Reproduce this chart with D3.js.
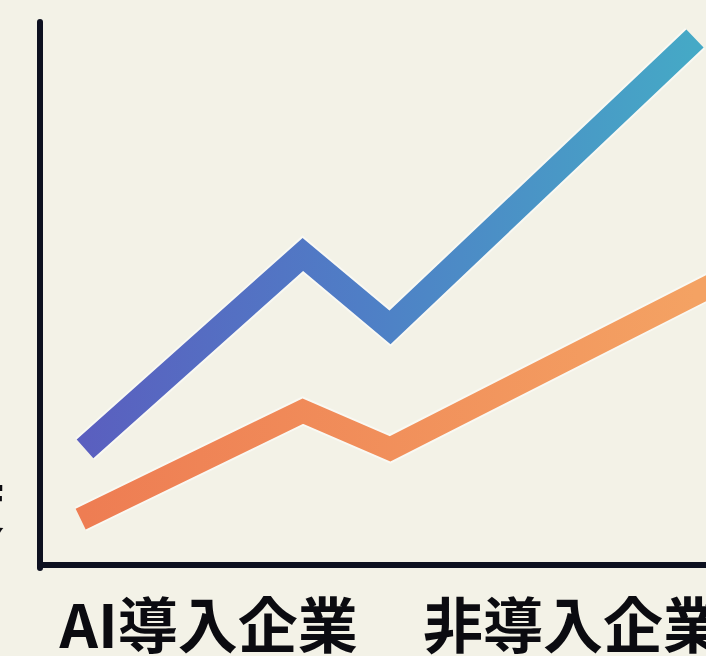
<!DOCTYPE html>
<html>
<head>
<meta charset="utf-8">
<script src="https://cdn.jsdelivr.net/npm/d3@7"></script>
<style>
  html,body{margin:0;padding:0;background:#f3f2e7;}
  svg{display:block;}
</style>
</head>
<body>
<svg id="chart" width="706" height="656"></svg>
<script>
// categories under the x axis
const categories = ["AI導入企業", "非導入企業"];
const categoryPos = [1.42, 5.6];

// series values (x in arbitrary time units, y in index units)
const aiX      = [0, 2.5, 3.5, 7];
const aiY      = [21.5, 57.5, 44, 97.5];
const nonX     = [-0.05, 2.5, 3.5, 7.4];
const nonY     = [8.5, 28.5, 21.5, 53.5];

const yLabel = "度";

const W = 706, H = 656;
const m = {left:40, right:0, top:22, bottom:91};

const svg = d3.select("#chart");

const x = d3.scaleLinear().domain([0, 7]).range([85, 695]);
const y = d3.scaleLinear().domain([0, 100]).range([H - m.bottom, H - m.bottom - 540]);

const defs = svg.append("defs");
const gBlue = defs.append("linearGradient").attr("id","gBlue")
  .attr("gradientUnits","userSpaceOnUse")
  .attr("x1",x(0)).attr("x2",x(7)).attr("y1",0).attr("y2",0);
gBlue.append("stop").attr("offset","0%").attr("stop-color","#5a5fbf");
gBlue.append("stop").attr("offset","45%").attr("stop-color","#4f7ec6");
gBlue.append("stop").attr("offset","100%").attr("stop-color","#45a9c6");

const gOrange = defs.append("linearGradient").attr("id","gOrange")
  .attr("gradientUnits","userSpaceOnUse")
  .attr("x1",x(0)).attr("x2",x(7)).attr("y1",0).attr("y2",0);
gOrange.append("stop").attr("offset","0%").attr("stop-color","#ee7d53");
gOrange.append("stop").attr("offset","100%").attr("stop-color","#f4a263");

const line = d3.line().x(d=>x(d[0])).y(d=>y(d[1]));

const series = [
  { pts: d3.zip(nonX, nonY), stroke:"url(#gOrange)", w:23 },
  { pts: d3.zip(aiX, aiY),   stroke:"url(#gBlue)",   w:25 }
];

series.forEach(s=>{
  // soft light halo
  svg.append("path").attr("d", line(s.pts))
    .attr("fill","none").attr("stroke","#ffffff").attr("stroke-opacity",0.5)
    .attr("stroke-width", s.w + 4).attr("stroke-linejoin","miter");
  svg.append("path").attr("d", line(s.pts))
    .attr("fill","none").attr("stroke", s.stroke)
    .attr("stroke-width", s.w).attr("stroke-linejoin","miter")
    .attr("stroke-linecap","butt");
});

// axes
const axisColor = "#0d1120";
svg.append("line")
  .attr("x1", m.left).attr("x2", m.left)
  .attr("y1", m.top).attr("y2", H - m.bottom + 3)
  .attr("stroke", axisColor).attr("stroke-width", 6).attr("stroke-linecap","round");
svg.append("line")
  .attr("x1", m.left - 3).attr("x2", W)
  .attr("y1", H - m.bottom).attr("y2", H - m.bottom)
  .attr("stroke", axisColor).attr("stroke-width", 6);

// category labels
svg.selectAll("text.cat").data(categories).join("text").attr("class","cat")
  .attr("x",(d,i)=>x(categoryPos[i])).attr("y", 648)
  .attr("text-anchor","middle").attr("fill","#0b0b10")
  .style("font-family","'Noto Sans CJK JP', 'Noto Sans', sans-serif")
  .style("font-weight","700").style("font-size","60px")
  .text(d=>d);

// y label, mostly off the left edge
svg.append("text").attr("x", 5).attr("y", 528)
  .attr("text-anchor","end").attr("fill","#0b0b10")
  .style("font-family","'Noto Sans CJK JP', sans-serif")
  .style("font-weight","700").style("font-size","56px")
  .text(yLabel);
</script>
</body>
</html>
